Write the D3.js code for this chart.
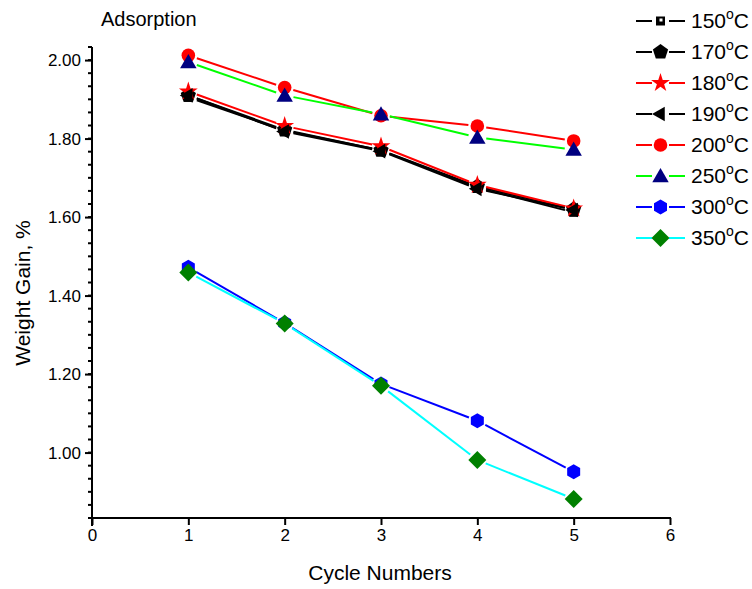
<!DOCTYPE html>
<html>
<head>
<meta charset="utf-8">
<script src="https://cdn.jsdelivr.net/npm/d3@7"></script>
<style>
  html, body { margin: 0; padding: 0; background: #fff; }
  text { font-family: "Liberation Sans", Arial, sans-serif; fill: #000; }
</style>
</head>
<body>
<svg id="chart" width="752" height="589"></svg>
<script>
// ---------------- data ----------------
const cycles = [1, 2, 3, 4, 5];
const seriesNames = ["150", "170", "180", "190", "200", "250", "300", "350"];
const s150 = [1.905, 1.820, 1.770, 1.675, 1.612];
const s170 = [1.910, 1.822, 1.770, 1.678, 1.620];
const s180 = [1.920, 1.832, 1.780, 1.682, 1.622];
const s190 = [1.910, 1.818, 1.768, 1.672, 1.618];
const s200 = [2.012, 1.930, 1.858, 1.832, 1.794];
const s250 = [1.995, 1.910, 1.862, 1.803, 1.772];
const s300 = [1.472, 1.330, 1.175, 1.081, 0.951];
const s350 = [1.459, 1.329, 1.170, 0.981, 0.882];
const xTicks = [0, 1, 2, 3, 4, 5, 6];
const yTicks = [1.00, 1.20, 1.40, 1.60, 1.80, 2.00];
const titleText = "Adsorption";
const xLabel = "Cycle Numbers";
const yLabel = "Weight Gain, %";

const seriesValues = [s150, s170, s180, s190, s200, s250, s300, s350];
const lineColors = ["#000000", "#000000", "#ff0000", "#000000", "#ff0000", "#00ff00", "#0000ff", "#00ffff"];
const markerColors = ["#000000", "#000000", "#ff0000", "#000000", "#ff0000", "#000080", "#0000ff", "#008000"];
const markerTypes = ["square", "pentagon", "star", "leftTri", "circle", "triangle", "hexagon", "diamond"];

// ---------------- scales ----------------
const svg = d3.select("#chart");
const x = d3.scaleLinear().domain([0, 6]).range([92, 670]);
const y = d3.scaleLinear().domain([0.8333, 2.0333]).range([518, 47]);

// ---------------- marker shapes ----------------
function polygonPath(n, r, rot) {
  const pts = d3.range(n).map(i => {
    const a = rot + i * 2 * Math.PI / n;
    return [r * Math.cos(a), r * Math.sin(a)];
  });
  return "M" + pts.map(p => p[0].toFixed(2) + "," + p[1].toFixed(2)).join("L") + "Z";
}
function drawMarker(g, type, cx, cy, color) {
  const m = g.append("g").attr("transform", `translate(${cx},${cy})`);
  switch (type) {
    case "square":
      m.append("rect").attr("x", -4.5).attr("y", -4.5).attr("width", 9).attr("height", 9).attr("fill", color);
      m.append("rect").attr("x", -1).attr("y", -2.5).attr("width", 3).attr("height", 3).attr("fill", "#fff");
      break;
    case "pentagon":
      m.append("path").attr("d", polygonPath(5, 8, -Math.PI / 2)).attr("fill", color);
      break;
    case "star":
      m.append("path").attr("d", d3.symbol(d3.symbolStar, 110)()).attr("fill", color);
      break;
    case "leftTri":
      m.append("path").attr("d", polygonPath(3, 8.5, Math.PI)).attr("fill", color);
      break;
    case "circle":
      m.append("circle").attr("r", 6.8).attr("fill", color);
      break;
    case "triangle":
      m.append("path").attr("d", polygonPath(3, 9.5, -Math.PI / 2)).attr("transform", "translate(0,1.5)").attr("fill", color);
      break;
    case "hexagon":
      m.append("path").attr("d", polygonPath(6, 7.5, -Math.PI / 2)).attr("fill", color);
      break;
    case "diamond":
      m.append("path").attr("d", polygonPath(4, 9, -Math.PI / 2)).attr("fill", color);
      break;
  }
}

// ---------------- axes ----------------
const axes = svg.append("g");
// x axis
const xAxis = d3.axisBottom(x).tickValues(xTicks).tickFormat(d3.format("d")).tickSizeOuter(0).tickSize(7).tickPadding(4);
const gx = axes.append("g").attr("transform", "translate(0,518)").call(xAxis);
gx.select(".domain").attr("stroke-width", 2).attr("d", "M91,0H671");
gx.selectAll(".tick line").attr("stroke-width", 2);
gx.selectAll(".tick text").style("font-size", "17px").style("font-family", "Liberation Sans, Arial, sans-serif");

// y axis minor ticks
const yMinor = d3.range(0, 37).map(i => 0.8333 + i * (0.2 / 6)).filter(v => v <= 2.04);
axes.append("g").selectAll("line").data(yMinor).join("line")
  .attr("x1", 88).attr("x2", 92).attr("y1", d => y(d)).attr("y2", d => y(d))
  .attr("stroke", "#000").attr("stroke-width", 2);
const yAxis = d3.axisLeft(y).tickValues(yTicks).tickFormat(d3.format(".2f")).tickSizeOuter(0).tickSize(7).tickPadding(4);
const gy = axes.append("g").attr("transform", "translate(92,0)").call(yAxis);
gy.select(".domain").attr("stroke-width", 2).attr("d", "M0,47V526");
gy.selectAll(".tick line").attr("stroke-width", 2);
gy.selectAll(".tick text").style("font-size", "17px").style("font-family", "Liberation Sans, Arial, sans-serif");

// axis titles
svg.append("text").attr("x", 380).attr("y", 580).attr("text-anchor", "middle").style("font-size", "21px").text(xLabel);
svg.append("text").attr("transform", "translate(30,293) rotate(-90)").attr("text-anchor", "middle").style("font-size", "21px").text(yLabel);
svg.append("text").attr("x", 101).attr("y", 26).style("font-size", "20px").text(titleText);

// ---------------- series ----------------
const gap = 9;
const plot = svg.append("g");
seriesValues.forEach((vals, si) => {
  const g = plot.append("g");
  const pts = cycles.map((c, i) => [x(c), y(vals[i])]);
  for (let i = 0; i < pts.length - 1; i++) {
    const [x0, y0] = pts[i], [x1, y1] = pts[i + 1];
    const L = Math.hypot(x1 - x0, y1 - y0);
    const ux = (x1 - x0) / L, uy = (y1 - y0) / L;
    g.append("line")
      .attr("x1", x0 + ux * gap).attr("y1", y0 + uy * gap)
      .attr("x2", x1 - ux * gap).attr("y2", y1 - uy * gap)
      .attr("stroke", lineColors[si]).attr("stroke-width", 2);
  }
  pts.forEach(p => drawMarker(g, markerTypes[si], p[0], p[1], markerColors[si]));
});

// ---------------- legend ----------------
const legend = svg.append("g");
seriesNames.forEach((name, i) => {
  const cy = 21 + i * 31;
  const g = legend.append("g");
  g.append("line").attr("x1", 636).attr("x2", 652).attr("y1", cy).attr("y2", cy).attr("stroke", lineColors[i]).attr("stroke-width", 2);
  g.append("line").attr("x1", 669).attr("x2", 685).attr("y1", cy).attr("y2", cy).attr("stroke", lineColors[i]).attr("stroke-width", 2);
  drawMarker(g, markerTypes[i], 660.5, cy, markerColors[i]);
  const t = g.append("text").attr("x", 691).attr("y", cy + 7).style("font-size", "21px");
  t.append("tspan").text(name);
  t.append("tspan").attr("dy", -9).style("font-size", "14px").text("o");
  t.append("tspan").attr("dy", 9).text("C");
});
</script>
</body>
</html>
